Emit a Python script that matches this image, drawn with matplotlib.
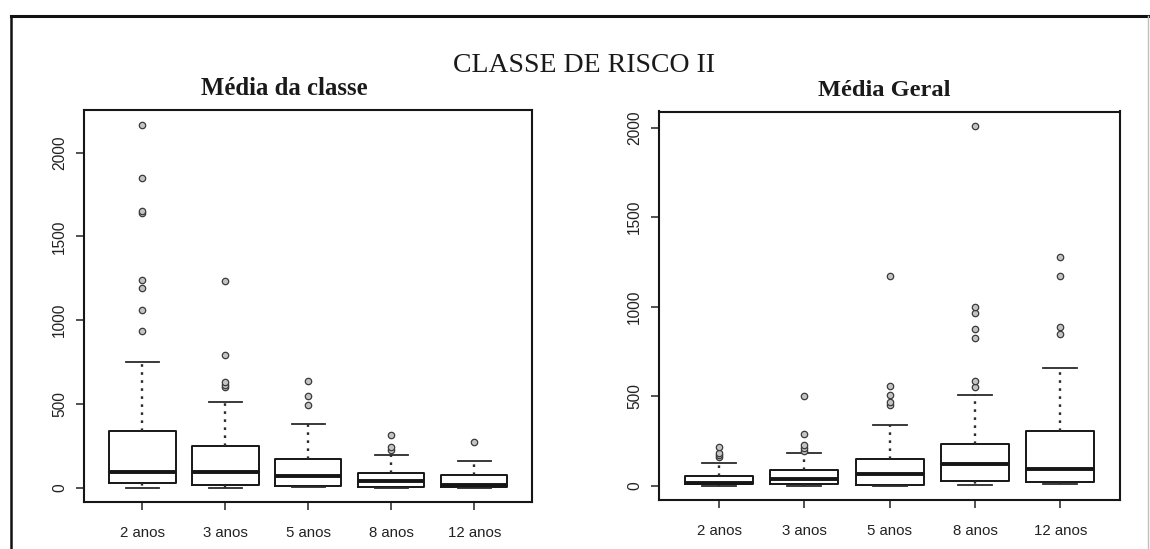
import matplotlib
matplotlib.use("Agg")
import matplotlib.pyplot as plt
from matplotlib.lines import Line2D

categories = ["2 anos", "3 anos", "5 anos", "8 anos", "12 anos"]
yticks = [0, 500, 1000, 1500, 2000]

# Média da classe
classe_q1 = [28, 18, 12, 6, 6]
classe_med = [94, 95, 70, 38, 15]
classe_q3 = [338, 249, 169, 88, 76]
classe_lo = [0, 0, 2, 0, 0]
classe_hi = [751, 511, 382, 193, 161]
classe_out = [
    [936, 1060, 1190, 1238, 1640, 1650, 1850, 2168],
    [600, 615, 633, 795, 1236],
    [494, 549, 636],
    [226, 245, 313],
    [276],
]

# Média Geral
geral_q1 = [8, 10, 5, 27, 19]
geral_med = [15, 36, 65, 121, 93]
geral_q3 = [56, 85, 149, 232, 305]
geral_lo = [0, 0, 0, 2, 9]
geral_hi = [125, 183, 341, 506, 658]
geral_out = [
    [160, 170, 184, 218],
    [195, 209, 227, 287, 500],
    [450, 468, 504, 556, 1172],
    [550, 584, 822, 875, 965, 999, 2009],
    [846, 888, 1170, 1275],
]

W, H = 1150, 549
fig = plt.figure(figsize=(W / 100, H / 100), dpi=100)
fig.patch.set_facecolor("white")

INK = "#161616"


def px_rect(x0, y0, x1, y1):
    return [x0 / W, 1 - y1 / H, (x1 - x0) / W, (y1 - y0) / H]


def panel(ax, q1, med, q3, lo, hi, out):
    stats = []
    for c, a, m, b, l, h, f in zip(categories, q1, med, q3, lo, hi, out):
        stats.append(dict(label=c, q1=a, med=m, q3=b, whislo=l, whishi=h, fliers=f))
    pos = list(range(1, len(categories) + 1))
    ax.bxp(stats, positions=pos, widths=0.8, capwidths=0.4, showfliers=True,
           boxprops=dict(color=INK, lw=1.4),
           medianprops=dict(color=INK, lw=2.8, solid_capstyle="butt"),
           whiskerprops=dict(color="#2a2a2a", lw=1.7, linestyle=(0, (1.1, 2.3))),
           capprops=dict(color="#2a2a2a", lw=1.3),
           flierprops=dict(marker="o", markersize=4.6, markerfacecolor="#c4c4c4",
                           markeredgecolor="#3a3a3a", markeredgewidth=0.9))
    top = max(max(hi), max(max(f) for f in out))
    pad = 0.04 * top
    ax.set_ylim(-pad, top + pad)
    ax.set_xlim(0.3, len(categories) + 0.7)
    ax.set_xticks(pos)
    ax.set_xticklabels(categories, fontsize=10.8, family="Liberation Sans", color="#222")
    ax.set_yticks(yticks)
    ax.set_yticklabels([str(v) for v in yticks], rotation=90, va="center",
                       fontsize=11.2, family="Liberation Sans", color="#222")
    ax.tick_params(axis="x", length=6, width=1.2, pad=11, colors="#333", labelcolor="#222")
    ax.tick_params(axis="y", length=5.5, width=1.2, pad=7, colors="#333", labelcolor="#222")
    for s in ax.spines.values():
        s.set_linewidth(1.5)
        s.set_color(INK)


ax1 = fig.add_axes(px_rect(84.3, 110, 532.3, 502.3))
panel(ax1, classe_q1, classe_med, classe_q3, classe_lo, classe_hi, classe_out)

ax2 = fig.add_axes(px_rect(659.3, 111.5, 1120, 500))
panel(ax2, geral_q1, geral_med, geral_q3, geral_lo, geral_hi, geral_out)

fig.text(584 / W, 1 - 72.5 / H, "CLASSE DE RISCO II", ha="center", va="baseline",
         fontsize=20, family="Liberation Serif", color="#1a1a1a")
fig.text(284.7 / W, 1 - 95 / H, "Média da classe", ha="center", va="baseline",
         fontsize=17.8, family="Liberation Serif", fontweight="bold", color="#1a1a1a")
fig.text(884 / W, 1 - 96 / H, "Média Geral", ha="center", va="baseline",
         fontsize=17.6, family="Liberation Serif", fontweight="bold", color="#1a1a1a")

# page frame around the figure
fig.add_artist(Line2D([11 / W, 11 / W], [1 - 16 / H, 0], transform=fig.transFigure,
                      color="#111", lw=1.8))
fig.add_artist(Line2D([11 / W, 1], [1 - 16 / H, 1 - 16 / H], transform=fig.transFigure,
                      color="#111", lw=2.2))
fig.add_artist(Line2D([1148 / W, 1148 / W], [1 - 16 / H, 0], transform=fig.transFigure,
                      color="#bdbdbd", lw=1.0))

fig.savefig("out.png", dpi=100, facecolor="white")
